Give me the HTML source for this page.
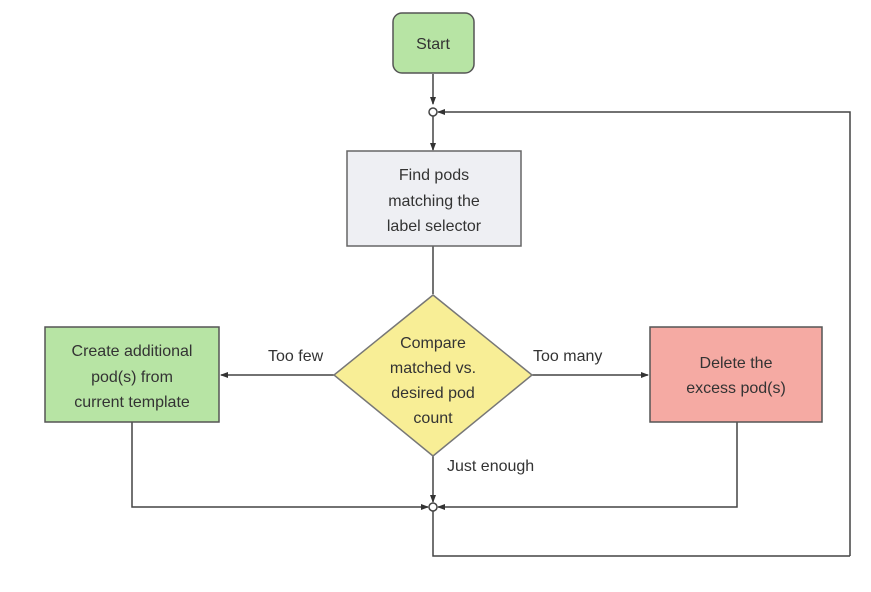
<!DOCTYPE html>
<html><head><style>
body{margin:0;background:#fff;}
svg text{font-family:"Liberation Sans",sans-serif;font-size:16px;fill:#333;}
</style></head><body>
<svg width="871" height="587" viewBox="0 0 871 587" xmlns="http://www.w3.org/2000/svg">
<defs><marker id="a" markerWidth="8" markerHeight="8" refX="7" refY="4" orient="auto" markerUnits="userSpaceOnUse"><path d="M0,1 L8,4 L0,7 z" fill="#333"/></marker></defs>
<g stroke="#444" stroke-width="1.5" fill="none">
<line x1="433" y1="74" x2="433" y2="104" marker-end="url(#a)"/>
<line x1="433" y1="116" x2="433" y2="150" marker-end="url(#a)"/>
<polyline points="850,556 850,112 438,112" marker-end="url(#a)"/>
<line x1="433" y1="246" x2="433" y2="294"/>
<line x1="334" y1="375" x2="221" y2="375" marker-end="url(#a)"/>
<line x1="532" y1="375" x2="648" y2="375" marker-end="url(#a)"/>
<line x1="433" y1="456" x2="433" y2="502" marker-end="url(#a)"/>
<polyline points="132,422 132,507 428,507" marker-end="url(#a)"/>
<polyline points="737,422 737,507 438,507" marker-end="url(#a)"/>
<polyline points="433,511 433,556 850,556"/>
</g>
<circle cx="433" cy="112" r="4" fill="#fff" stroke="#444" stroke-width="1.5"/>
<circle cx="433" cy="507" r="4" fill="#fff" stroke="#444" stroke-width="1.5"/>
<rect x="393" y="13" width="81" height="60" rx="9" fill="#b7e4a4" stroke="#555" stroke-width="1.5"/>
<text x="433" y="49" text-anchor="middle">Start</text>
<rect x="347" y="151" width="174" height="95" fill="#eeeff3" stroke="#666" stroke-width="1.5"/>
<text x="434" y="180" text-anchor="middle">Find pods</text>
<text x="434" y="206" text-anchor="middle">matching the</text>
<text x="434" y="231" text-anchor="middle">label selector</text>
<polygon points="433,295 532,375 433,456 334,375" fill="#f8ee96" stroke="#777" stroke-width="1.5"/>
<text x="433" y="348" text-anchor="middle">Compare</text>
<text x="433" y="373" text-anchor="middle">matched vs.</text>
<text x="433" y="398" text-anchor="middle">desired pod</text>
<text x="433" y="423" text-anchor="middle">count</text>
<rect x="45" y="327" width="174" height="95" fill="#b7e4a4" stroke="#555" stroke-width="1.5"/>
<text x="132" y="356" text-anchor="middle">Create additional</text>
<text x="132" y="382" text-anchor="middle">pod(s) from</text>
<text x="132" y="407" text-anchor="middle">current template</text>
<rect x="650" y="327" width="172" height="95" fill="#f5aaa3" stroke="#555" stroke-width="1.5"/>
<text x="736" y="368" text-anchor="middle">Delete the</text>
<text x="736" y="393" text-anchor="middle">excess pod(s)</text>
<text x="268" y="361">Too few</text>
<text x="533" y="361">Too many</text>
<text x="447" y="471">Just enough</text>
</svg>
</body></html>
